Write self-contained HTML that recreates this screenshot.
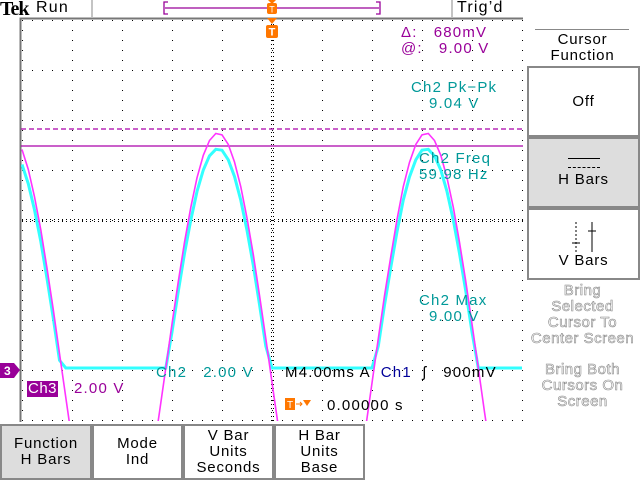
<!DOCTYPE html>
<html><head><meta charset="utf-8"><style>
html,body{margin:0;width:640px;height:480px;overflow:hidden}
body{background:#fff;position:relative;font-family:"Liberation Sans",sans-serif}
.t{position:absolute;font-size:15px;white-space:pre;line-height:16px;letter-spacing:1.2px}
.mg{color:#990099}.cy{color:#009999}
.btn{position:absolute;border:2px solid #888;box-sizing:border-box;text-align:center;font-size:15px;letter-spacing:0.8px;line-height:16px;display:flex;flex-direction:column;justify-content:center;background:#fff;overflow:hidden}
.ghost{color:#fff;-webkit-text-stroke:0.6px #888;text-align:center;font-size:15px;letter-spacing:0.5px;line-height:16px;position:absolute;width:115px;left:525px;height:70px;overflow:hidden}
</style></head><body>
<svg width="640" height="480" style="position:absolute;left:0;top:0">
<g id="grid"></g>
<line x1="21" x2="523" y1="146" y2="146" stroke="#aa00aa" stroke-width="1.3"/>
<line x1="21" x2="523" y1="129" y2="129" stroke="#aa00aa" stroke-width="1.3" stroke-dasharray="5,3"/>
<clipPath id="cp"><rect x="21" y="19" width="502" height="402"/></clipPath>
<g clip-path="url(#cp)">
<path id="ch2" fill="none" stroke="#33ffff" stroke-width="3"/>
<path id="ch3" fill="none" stroke="#ff33ff" stroke-width="1.6"/>
</g>
<line x1="92" y1="0" x2="92" y2="17" stroke="#888"/>
<line x1="452" y1="0" x2="452" y2="17" stroke="#888"/>
<path d="M168 2H164V14H168M376 2H380V14H376M165 8H379" fill="none" stroke="#990099" stroke-width="1.3"/>
<g fill="#ff7700">
<rect x="267" y="3" width="10" height="11" rx="2"/><polygon points="268,0 276,0 272,4"/>
<polygon points="267,18 277,18 272,24"/><rect x="266" y="25" width="12" height="13" rx="2"/>
</g>
<text x="272" y="12.5" font-size="9" fill="#fff" text-anchor="middle" font-family="Liberation Sans">T</text>
<text x="272" y="35.5" font-size="11" font-weight="bold" fill="#fff" text-anchor="middle" font-family="Liberation Sans">T</text>
<polygon points="0,363 14,363 20,370 14,378 0,378" fill="#990099"/>
<text x="4" y="375" font-size="12" font-weight="bold" fill="#fff" font-family="Liberation Sans">3</text>
<rect x="285" y="398" width="10" height="12" fill="#ff7700"/><text x="290" y="408" font-size="10" fill="#fff" text-anchor="middle" font-family="Liberation Sans">T</text>
<path d="M296 404H302M300 402L302 404L300 406" stroke="#ff7700" fill="none"/><polygon points="303,400 311,400 307,406" fill="#ff7700"/>
</svg>
<div class="t" style="left:0;top:-1px;font-family:'Liberation Serif',serif;font-weight:bold;font-size:20px;letter-spacing:-1px;line-height:20px">Tek</div>
<div class="t" style="left:36px;top:0;font-size:16px">Run</div>
<div class="t" style="left:457px;top:0;font-size:16px">Trig’d</div>
<div class="t mg" style="left:401px;top:25px">Δ:   680mV</div>
<div class="t mg" style="left:401px;top:41px">@:   9.00 V</div>
<div class="t cy" style="left:411px;top:80px">Ch2 Pk−Pk</div>
<div class="t cy" style="left:429px;top:96px">9.04 V</div>
<div class="t cy" style="left:419px;top:151px">Ch2 Freq</div>
<div class="t cy" style="left:419px;top:167px">59.98 Hz</div>
<div class="t cy" style="left:419px;top:293px">Ch2 Max</div>
<div class="t cy" style="left:429px;top:309px">9.00 V</div>
<div class="t cy" style="left:156px;top:365px">Ch2   2.00 V</div>
<div class="t" style="left:285px;top:365px">M4.00ms A  <span style="color:#000099">Ch1</span>  ʃ   900mV</div>
<div class="t" style="left:27px;top:381px;background:#990099;color:#fff;padding:0 1px;letter-spacing:0.5px">Ch3</div>
<div class="t mg" style="left:74px;top:381px">2.00 V</div>
<div class="t" style="left:327px;top:398px">0.00000 s</div>
<div style="position:absolute;left:535px;top:29px;width:94px;height:1px;background:#888"></div>
<div class="t" style="left:525px;top:32px;width:115px;text-align:center;font-size:15px;letter-spacing:0.8px">Cursor<br>Function</div>
<div class="btn" style="left:527px;top:66px;width:113px;height:71px">Off</div>
<div class="btn" style="left:527px;top:137px;width:113px;height:71px;background:#ddd"><div style="margin:0 auto 4px;width:32px;border-top:1px solid #000;height:10px;border-bottom:1px dashed #000;box-sizing:border-box"></div>H Bars</div>
<div class="btn" style="left:527px;top:208px;width:113px;height:72px"><svg width="40" height="34" style="margin:0 auto;display:block"><line x1="12" y1="3" x2="12" y2="33" stroke="#000" stroke-dasharray="2,2"/><line x1="8" y1="24" x2="16" y2="24" stroke="#000"/><line x1="28" y1="3" x2="28" y2="33" stroke="#000"/><line x1="24" y1="12" x2="32" y2="12" stroke="#000"/></svg>V Bars</div>
<div class="ghost" style="top:283px">Bring<br>Selected<br>Cursor To<br>Center Screen</div>
<div class="ghost" style="top:362px;height:50px">Bring Both<br>Cursors On<br>Screen</div>
<div class="btn" style="left:0;top:424px;width:92px;height:56px;background:#ddd">Function<br>H Bars</div>
<div class="btn" style="left:92px;top:424px;width:91px;height:56px">Mode<br>Ind</div>
<div class="btn" style="left:183px;top:424px;width:91px;height:56px">V Bar<br>Units<br>Seconds</div>
<div class="btn" style="left:274px;top:424px;width:91px;height:56px">H Bar<br>Units<br>Base</div>
<script>
const timesMs=[];for(let i=0;i<=80;i++)timesMs.push(-20+i*0.5);
const ch3Volts=[8.74,7.94,6.85,5.53,3.99,2.33,0.58,-1.18,-2.91,-4.54,-6.00,-7.25,-8.24,-8.94,-9.33,-9.38,-9.10,-8.51,-7.61,-6.43,-5.03,-3.46,-1.76,0,1.76,3.46,5.03,6.43,7.61,8.51,9.10,9.38,9.33,8.94,8.24,7.25,6.00,4.54,2.91,1.18,-0.58,-2.33,-3.99,-5.53,-6.85,-7.94,-8.74,-9.24,-9.40,-9.23,-8.74,-7.95,-6.86,-5.52,-4.01,-2.35,-0.60,1.18,2.89,4.46,5.94,7.26,8.23,8.94,9.33,9.38,9.10,8.51,7.61,6.43,5.03,3.46,1.76,0,-1.76,-3.46,-5.03,-6.43,-7.61,-8.51,-9.10];
const ch2Volts=[8.14,7.37,6.33,5.06,3.58,1.99,0.31,0,0,0,0,0,0,0,0,0,0,0,0,0,0,0,0,0,1.44,3.07,4.58,5.92,7.06,7.92,8.49,8.75,8.71,8.33,7.66,6.71,5.51,4.11,2.54,0.88,0,0,0,0,0,0,0,0,0,0,0,0,0,0,0,0,0,0.88,2.52,4.03,5.45,6.72,7.65,8.33,8.71,8.75,8.49,7.92,7.06,5.92,4.58,3.07,1.44,0,0,0,0,0,0,0,0];
const X0=272,PX_PER_MS=12.5,GND=368,PX_PER_V=25;
const xs=t=>X0+t*PX_PER_MS, ys=v=>GND-v*PX_PER_V;
function path(arr){return arr.map((v,i)=>(i?'L':'M')+xs(timesMs[i]).toFixed(1)+' '+ys(v).toFixed(1)).join('');}
document.getElementById('ch3').setAttribute('d',path(ch3Volts));
document.getElementById('ch2').setAttribute('d',path(ch2Volts));
const g=document.getElementById('grid');let d='';
for(let k=0;k<=10;k++){const x=22+50*k;for(let y=20;y<=420;y+=10)d+=`M${x} ${y}h1v1h-1z`;}
for(let k=0;k<=8;k++){const y=20+50*k;for(let x=22;x<=522;x+=10)d+=`M${x} ${y}h1v1h-1z`;}
for(let y=20;y<=420;y+=4)d+=`M271 ${y}h1v1h-1zM273 ${y}h1v1h-1z`;
for(let x=22;x<=522;x+=4)d+=`M${x} 219h1v1h-1zM${x} 221h1v1h-1z`;
const p=document.createElementNS('http://www.w3.org/2000/svg','path');p.setAttribute('d',d);p.setAttribute('fill','#000');


g.appendChild(p);
const f=document.createElementNS('http://www.w3.org/2000/svg','path');f.setAttribute('d','M20.5 422V18.5H523');f.setAttribute('stroke','#777');f.setAttribute('stroke-width','2');f.setAttribute('fill','none');


g.appendChild(f);
</script>
</body></html>
